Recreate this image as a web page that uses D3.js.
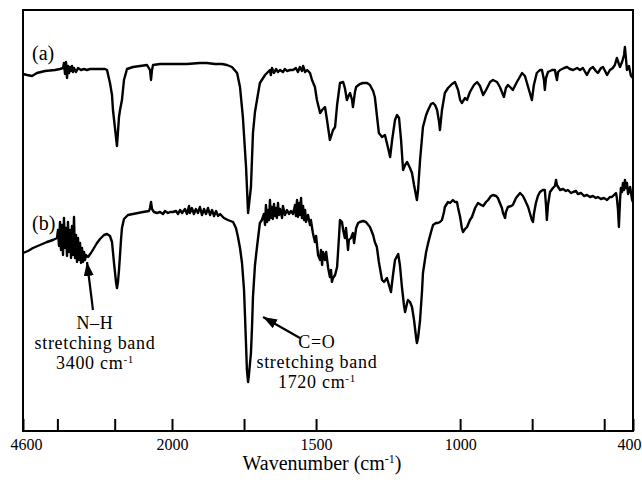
<!DOCTYPE html>
<html>
<head>
<meta charset="utf-8">
<script src="https://d3js.org/d3.v7.min.js"></script>
<style>
  body { margin: 0; background: #fff; }
  .axis text { font-family: "Liberation Serif", "Times New Roman", serif; font-size: 16px; fill: #000; }
  .axis line { stroke: #000; stroke-width: 2; }
  .axis path { display: none; }
  .spec { fill: none; stroke: #000; stroke-width: 2.4; stroke-linejoin: round; }
  .note { font-family: "Liberation Serif", "Times New Roman", serif; font-size: 20px; fill: #000; }
  .band { font-family: "Liberation Serif", "Times New Roman", serif; font-size: 18px; letter-spacing: 0.7px; fill: #000; }
</style>
</head>
<body>
<script>
// *** data (wavenumber in cm-1, transmittance in arbitrary %)
var wnA = [4600,4530,4443,4356,4216,4042,3954,3902,3885,3867,3850,3832,3815,3797,3780,3762,3745,3727,3710,3675,3640,3588,3536,3483,3431,3344,3256,3169,3134,3082,3047,3030,2995,2960,2943,2925,2907,2873,2838,2785,2681,2558,2436,2384,2366,2349,2331,2209,2087,
  1990,1948,1903,1879,1851,1826,1809,1792,1774,1764,1754,1743,1736,1726,1719,1712,1705,1695,1677,1667,1660,1657,1653,1646,1639,1632,1625,1615,1608,1601,1590,1580,1570,1563,1556,1549,1545,1538,1531,1521,1514,1504,1497,1486,1479,1469,1462,1452,1441,1434,1427,1417,1406,1400,1393,1386,1382,1375,1372,1365,1361,1348,1337,1323,1313,1302,1296,1289,1282,1271,1261,1250,1243,1236,1226,1219,1212,1205,1198,1191,1184,1174,1167,1160,1150,1146,1139,1129,1118,1111,1101,1094,1087,1080,1073,1070,1063,1053,1042,1028,1018,1007,1000,994,983,976,966,952,941,931,920,910,896,886,872,862,855,848,841,834,823,817,803,785,775,768,758,751,744,734,723,716,709,706,702,695,681,671,667,664,660,653,639,629,619,608,594,584,574,560,549,539,529,522,511,504,497,490,480,470,463,456,449,445,438,431,428,424,421,414,407,400];
var tA = [89.25,89,88.75,89.5,90,90.25,90.5,90.75,92,89.25,92.25,88.25,91.25,89.5,91,90,91.25,89.75,90.75,89.75,90.75,90.25,90.5,90.25,90.5,90.5,90.5,90.5,90.25,87,84,80.25,75.75,71.25,74.75,78.5,80.25,82.75,87.75,90.5,91,91.25,91.5,90.25,87.75,90.25,91.5,91.75,91.75,
  91.75,91.75,92,92,91.75,91.75,91.5,91,89.5,86,78.5,66,54.5,61,74.5,79.75,82.75,87,89,89.75,90.25,89,90.75,89.5,90.5,89.75,90.25,89.75,90.5,90,90.25,90.25,90.75,89.75,91,90,91.25,89.75,90.25,89.5,87.75,86,82.75,79.5,80.25,81,77.75,72.75,75.25,76,81.5,87,87.25,85.75,82.75,84,84.5,82.75,81,84.75,86,86.75,87,87,86.5,85,83.5,79,74.5,73.5,74,70.75,68.5,72.75,77.75,79,78.25,72.75,65.25,66.5,67.25,65.75,64.5,61.5,57.75,60.25,67.75,76,79,80.25,81.75,82,81.5,80.25,77.25,75.25,80.25,84.5,85.75,86.75,87.25,85.25,82.75,82,83.25,82.75,84.75,86.5,87.25,86.25,84,85.25,87.25,87.75,87.25,86,84.75,83.5,85.75,86.5,85.75,85.25,87.25,89.5,88.75,87,84.5,82.75,86.5,89.5,90.25,90.25,87.75,85.25,88.25,89.75,90.25,90.25,88.75,87.75,89.75,90.25,90.75,91,90.5,90.25,90.75,90.25,90.75,89,90.5,91,90,89.5,90.75,91,90,89,90.25,90.75,91.5,93.25,91.75,91,92.25,94,96,92.75,90.25,91.25,88.75,88.25];

var wnB = [4600,4513,4426,4303,4181,4077,4007,3989,3972,3954,3937,3919,3902,3885,3867,3850,3832,3815,3797,3780,3762,3745,3727,3710,3692,3675,3658,3640,3623,3605,3588,3570,3553,3536,3518,3501,3466,3414,3361,3309,3256,3187,3134,3082,3047,3012,2977,2960,2943,2925,2907,2890,2873,2838,2768,2681,2593,2506,2401,2384,2366,2349,2314,2262,2209,2157,2122,2070,2035,
  1997,1986,1979,1972,1965,1955,1948,1941,1938,1931,1924,1917,1910,1903,1896,1889,1882,1875,1868,1861,1854,1847,1840,1833,1820,1806,1788,1778,1771,1764,1757,1750,1747,1743,1740,1736,1733,1726,1722,1719,1712,1705,1695,1688,1681,1677,1674,1670,1667,1663,1660,1657,1653,1650,1646,1643,1639,1636,1632,1629,1625,1618,1615,1608,1601,1594,1587,1580,1573,1570,1566,1563,1559,1556,1552,1549,1545,1542,1538,1535,1528,1521,1518,1511,1504,1500,1493,1486,1483,1479,1476,1469,1465,1458,1452,1448,1445,1441,1434,1427,1420,1417,1410,1406,1400,1396,1389,1386,1379,1372,1368,1361,1354,1348,1337,1327,1313,1302,1296,1289,1282,1271,1264,1254,1247,1240,1233,1226,1215,1209,1202,1195,1191,1184,1181,1174,1167,1160,1153,1150,1146,1139,1132,1129,1118,1111,1101,1094,1084,1077,1070,1063,1056,1053,1042,1035,1025,1018,1011,1007,1000,994,990,983,976,966,959,948,938,927,920,910,903,893,886,875,869,862,855,851,844,841,834,823,817,806,792,782,775,764,758,751,747,744,737,730,723,713,706,702,699,695,688,678,671,667,664,653,643,633,626,615,608,598,591,580,570,560,549,539,529,522,511,501,490,480,473,466,459,456,452,449,445,442,438,435,431,428,424,421,417,410,403,400];
var tB = [44.5,45,45.75,46.5,47.25,47.75,48.25,50.25,46.25,52.25,45.25,51.5,44,53.25,45.75,50.75,43.75,52.25,44.75,50.25,43.25,51.25,44,53.5,43.25,49,42.25,48.25,42.75,47,42,45.75,42.25,44.75,42.75,44,43.5,44.5,45.75,47,48,49,49.25,48.75,47.25,42,37.25,35.75,37.25,40.25,44,47.75,50.75,53,54,54.25,54.5,54.75,55,55.75,57.25,55.5,54.75,54.5,54.75,54.25,55,54.5,54.75,
  54.75,55,54.25,55.25,54.5,55.5,54.25,56.25,54.5,55.75,54.25,55.5,54.5,56,54,55.5,54.25,55.75,54,55.25,53.75,55,53.75,54.25,53.25,52.75,52.25,50.75,48.5,45.75,42,35.25,29.5,21.5,15.25,12.25,14,19.5,26.5,33.5,41.5,46,52,52.75,54.25,51.5,56.5,52.25,55.25,52.75,57.75,53.25,56,53,56.75,53.75,55.75,53.25,57,54,55.5,53.25,56.25,54,55.25,54.25,55,54.25,56.5,53.75,57.75,53.5,57,54,58.25,53.25,56.25,52.75,55.25,52.25,54,51.5,52.75,49.5,47.25,48.75,44,42.75,45.25,41.5,44.75,42.75,44.75,40.75,38.5,40.25,37.25,38.25,39,41,49,52.75,52.25,50.25,48.25,50.75,45.25,47.75,48.25,49.5,47,50.75,52,52.25,52.5,52.25,51,49,47.25,46,42.25,37.75,37.25,38.25,36.5,34.75,39,42.75,44.25,41.5,36,31.5,29.75,32,32.75,32.25,31,27.75,23.5,22,23.25,27.75,35.25,39.5,44.75,47,49.75,51.5,52,52,52.25,52.75,54.75,56,57.25,57,57.75,57.25,57.25,55.75,53.5,50.75,49.75,50.5,51,52.75,53.5,55.75,57,56.5,56.25,57.25,57.75,58.75,59,58.75,58.25,57,55.75,54.5,53.25,54.75,56,56.25,56.5,58.25,59.5,58.75,57.75,56,54.5,52.75,52.25,54.25,57,58.75,59.75,60.25,60.25,56.5,52.75,56.5,59.75,60.75,61.25,62.75,61.5,60.25,60.5,60,60.25,59.5,59.75,60,59.25,59.5,58.75,59,58.5,58.75,58.25,58.5,58,58.25,57.75,58.5,58.5,59,59.5,58.25,55.25,51,57.75,60.75,59.75,62,60.25,62.75,60.75,62,59.25,61,57.75,57.25];

// tick marks on the bottom axis, labels only on some of them
var tickValues = [4600, 4000, 3000, 2000, 1750, 1500, 1000, 750, 500, 400];
var tickLabels = [4600, 2000, 1500, 1000, 400];

// spectrum labels and annotations [wavenumber, transmittance]
var seriesLabels = [["(a)", 4443, 92.75], ["(b)", 4443, 50.25]];
var arrows = [
  { from: [3379, 30.25], to: [3483, 42.25] },   // N-H
  { from: [1556, 23.25], to: [1684, 28.5] }     // C=O
];
var notes = [
  { wn: 3344, t: 25.5, lines: ["N\u2013H", "stretching band", "3400 cm"] },
  { wn: 1497, t: 20.75, lines: ["C=O", "stretching band", "1720 cm"] }
];

// ** SVG canvas parameters
var width = 642, height = 482;
var frame = { left: 23, right: 633, top: 10, bottom: 431 };

var svg = d3.select("body").append("svg")
    .attr("width", width)
    .attr("height", height);

// *** Scales: the wavenumber axis changes scale at 2000 cm-1
var x = d3.scaleLinear()
    .domain([4600, 2000, 400])
    .range([frame.left, 172, frame.right]);
var y = d3.scaleLinear()
    .domain([0, 105.25])
    .range([frame.bottom, frame.top]);

// *** Spectra
var line = d3.line()
    .x(function(d){ return x(d[0]); })
    .y(function(d){ return y(d[1]); });

svg.append("path").attr("class", "spec")
    .attr("d", line(d3.zip(wnA, tA)));
svg.append("path").attr("class", "spec")
    .attr("d", line(d3.zip(wnB, tB)));

// *** Frame and axis
svg.append("rect")
    .attr("x", frame.left)
    .attr("y", frame.top)
    .attr("width", frame.right - frame.left)
    .attr("height", frame.bottom - frame.top)
    .attr("fill", "none")
    .attr("stroke", "#000")
    .attr("stroke-width", 2);

var xAxis = d3.axisBottom(x)
    .tickValues(tickValues)
    .tickSizeInner(-12)
    .tickSizeOuter(0)
    .tickPadding(8)
    .tickFormat(function(d){ return tickLabels.indexOf(d) >= 0 ? d : ""; });

var gx = svg.append("g")
    .attr("class", "axis")
    .attr("transform", "translate(0," + frame.bottom + ")")
    .call(xAxis);
gx.selectAll("text").filter(function(d){ return d == 400; }).attr("dx", -4);
gx.selectAll("text").filter(function(d){ return d == 4600; }).attr("dx", 3);

var title = svg.append("text")
    .attr("class", "note")
    .attr("x", 322)
    .attr("y", 470)
    .attr("text-anchor", "middle")
    .text("Wavenumber (cm");
title.append("tspan").attr("dy", -7).attr("font-size", "12px").text("-1");
title.append("tspan").attr("dy", 7).text(")");

// *** Labels (a) and (b)
svg.selectAll(".slabel")
    .data(seriesLabels)
    .enter().append("text")
    .attr("class", "note")
    .attr("x", function(d){ return x(d[1]); })
    .attr("y", function(d){ return y(d[2]); })
    .text(function(d){ return d[0]; });

// *** Arrows
svg.append("defs").append("marker")
    .attr("id", "head")
    .attr("markerUnits", "userSpaceOnUse")
    .attr("viewBox", "0 0 14 10")
    .attr("refX", 14)
    .attr("refY", 5)
    .attr("markerWidth", 14)
    .attr("markerHeight", 10)
    .attr("orient", "auto")
    .append("path")
    .attr("d", "M0,0L14,5L0,10Z")
    .attr("fill", "#000");

svg.selectAll(".arrow")
    .data(arrows)
    .enter().append("line")
    .attr("x1", function(d){ return x(d.from[0]); })
    .attr("y1", function(d){ return y(d.from[1]); })
    .attr("x2", function(d){ return x(d.to[0]); })
    .attr("y2", function(d){ return y(d.to[1]); })
    .attr("stroke", "#000")
    .attr("stroke-width", 2.2)
    .attr("marker-end", "url(#head)");

// *** Annotation text, one text block per band, 20px line step
notes.forEach(function(n){
    var t = svg.append("text")
        .attr("class", "band")
        .attr("text-anchor", "middle")
        .attr("y", y(n.t));
    n.lines.forEach(function(s, i){
        t.append("tspan")
            .attr("x", x(n.wn))
            .attr("dy", i == 0 ? 0 : 20)
            .text(s);
    });
    t.append("tspan").attr("dy", -6).attr("font-size", "11px").text("-1");
});
</script>
</body>
</html>
